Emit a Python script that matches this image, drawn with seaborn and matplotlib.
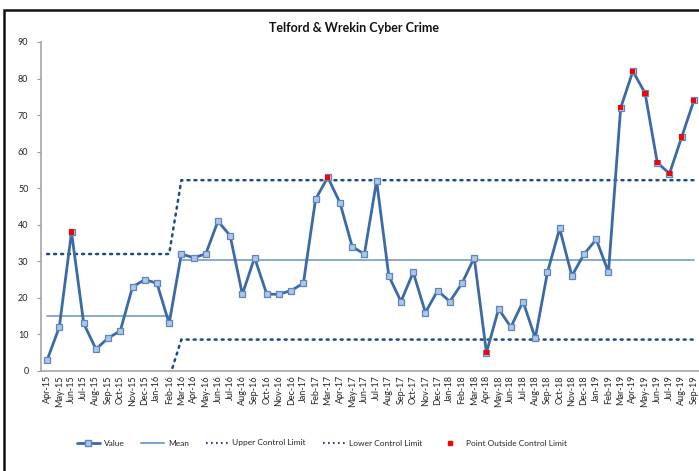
import numpy as np
import pandas as pd
import matplotlib
matplotlib.use("Agg")
import matplotlib.pyplot as plt
import seaborn as sns
from matplotlib.lines import Line2D
from matplotlib.patches import Rectangle


months = ["Apr-15", "May-15", "Jun-15", "Jul-15", "Aug-15", "Sep-15", "Oct-15", "Nov-15", "Dec-15",
          "Jan-16", "Feb-16", "Mar-16", "Apr-16", "May-16", "Jun-16", "Jul-16", "Aug-16", "Sep-16",
          "Oct-16", "Nov-16", "Dec-16", "Jan-17", "Feb-17", "Mar-17", "Apr-17", "May-17", "Jun-17",
          "Jul-17", "Aug-17", "Sep-17", "Oct-17", "Nov-17", "Dec-17", "Jan-18", "Feb-18", "Mar-18",
          "Apr-18", "May-18", "Jun-18", "Jul-18", "Aug-18", "Sep-18", "Oct-18", "Nov-18", "Dec-18",
          "Jan-19", "Feb-19", "Mar-19", "Apr-19", "May-19", "Jun-19", "Jul-19", "Aug-19", "Sep-19"]

values = [3, 12, 38, 13, 6, 9, 11, 23, 25, 24, 13,
          32, 31, 32, 41, 37, 21, 31, 21, 21, 22, 24, 47, 53,
          46, 34, 32, 52, 26, 19, 27, 16, 22, 19, 24, 31,
          5, 17, 12, 19, 9, 27, 39, 26, 32, 36, 27, 72,
          82, 76, 57, 54, 64, 74]

# two phases: Apr-15..Feb-16 and Mar-16 onwards
phase_len = [11, 43]
mean_vals = [15, 30.4]
ucl_vals = [32, 52.2]
lcl_vals = [-2, 8.6]

outside = [False, False, True] + [False] * 20 + [True] + [False] * 12 + [True] + [False] * 10 + [True] * 7

n = len(months)
x = np.arange(n)
df = pd.DataFrame({
    "x": x,
    "month": months,
    "value": values,
    "mean": np.repeat(mean_vals, phase_len),
    "ucl": np.repeat(ucl_vals, phase_len),
    "lcl": np.repeat(lcl_vals, phase_len),
    "outside": outside,
})
df["phase"] = np.repeat([0, 1], phase_len)

sns.set_style("white")
plt.rcParams["font.family"] = ["Lato", "DejaVu Sans"]

fig = plt.figure(figsize=(6.99, 4.71), dpi=100)
ax = fig.add_axes([41 / 699, 100 / 471, 659 / 699, 329 / 471])

dark = "#3C6AA6"
navy = "#1F4A85"
mean_c = "#7FA3D3"

# mean drawn per phase (no joining segment)
for ph, sub in df.groupby("phase"):
    sns.lineplot(data=sub, x="x", y="mean", ax=ax, color=mean_c, linewidth=1.3, zorder=2)

dots = (0, (0.8, 2.0))
sns.lineplot(data=df, x="x", y="ucl", ax=ax, color=navy, linewidth=1.8,
             linestyle=dots, dash_capstyle="round", zorder=2)
sns.lineplot(data=df, x="x", y="lcl", ax=ax, color=navy, linewidth=1.8,
             linestyle=dots, dash_capstyle="round", zorder=2)

sns.lineplot(data=df, x="x", y="value", ax=ax, color=dark, linewidth=2.0,
             marker="s", markersize=5, markerfacecolor="#AFC6E6",
             markeredgecolor="#5B86C0", markeredgewidth=0.9, zorder=3)

red = df[df["outside"]]
sns.scatterplot(data=red, x="x", y="value", ax=ax, marker="s", s=14,
                color="#FF0000", edgecolor="none", zorder=4)

ax.set_xlim(-0.5, n - 0.5)
ax.set_ylim(0, 90)
ax.set_yticks(range(0, 91, 10))
ax.set_xticks(x)
ax.set_xticklabels(months, rotation=90, fontsize=6.5, color="#222222")
ax.tick_params(axis="y", labelsize=6.5, labelcolor="#222222", length=3, width=0.8,
               color="#999999", direction="out", left=True, pad=6)
ax.tick_params(axis="x", length=0, pad=3)
ax.set_xlabel("")
ax.set_ylabel("")
for s in ["top", "right"]:
    ax.spines[s].set_visible(False)
for s in ["left", "bottom"]:
    ax.spines[s].set_color("#A6A6A6")
    ax.spines[s].set_linewidth(1.2)
ax.grid(False)

fig.text(354 / 699, 1 - 28 / 471, "Telford & Wrekin Cyber Crime", ha="center", va="center",
         fontsize=9, fontweight="bold", color="#111111")

handles = [
    Line2D([], [], color=dark, linewidth=2.0, marker="s", markersize=4,
           markerfacecolor="#AFC6E6", markeredgecolor="#5B86C0"),
    Line2D([], [], color=mean_c, linewidth=1.5),
    Line2D([], [], color=navy, linewidth=1.5, linestyle=(0, (0.8, 1.6))),
    Line2D([], [], color=navy, linewidth=1.5, linestyle=(0, (0.8, 1.6))),
    Line2D([], [], linestyle="none", marker="s", markersize=3.5, color="#FF0000"),
]
labels = ["Value", "Mean", "Upper Control Limit", "Lower Control Limit", "Point Outside Control Limit"]
fig.legend(handles, labels, loc="center", bbox_to_anchor=(322 / 699, 1 - 443 / 471), ncol=5,
           frameon=False, fontsize=6, handlelength=2.7, handletextpad=0.5, columnspacing=2.0)

# outer chart border (top and left visible, right/bottom run off the image)
fig.patches.append(Rectangle((4 / 699, -0.1), 1.2, 1 - 10 / 471 + 0.1, transform=fig.transFigure,
                             fill=False, edgecolor="#111111", linewidth=1.8, zorder=0))

fig.savefig("out.png", dpi=100)
